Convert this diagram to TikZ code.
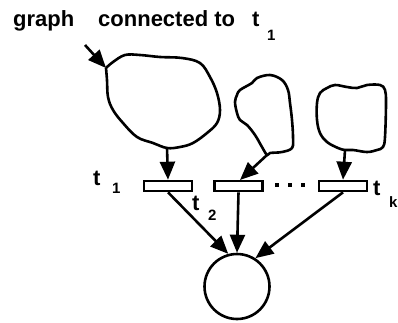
\documentclass[tikz,border=0pt]{standalone}
\usepackage{fontspec}
\setmainfont{Liberation Sans}
\usetikzlibrary{arrows.meta}
\tikzset{
  edge/.style={line width=2.6pt, -{Triangle[length=18pt,width=15pt]}},
  outline/.style={line width=2.6pt, line join=round},
  trans/.style={draw, line width=2.6pt, minimum width=48pt, minimum height=10pt, inner sep=0pt, fill=white},
  place/.style={draw, line width=2.6pt, circle, minimum size=65pt, inner sep=0pt},
  lbl/.style={inner sep=0pt, anchor=base west, font=\fontsize{22}{22}\selectfont\bfseries},
  sub/.style={inner sep=0pt, anchor=base west, font=\fontsize{15}{15}\selectfont\bfseries},
}
\begin{document}
\begin{tikzpicture}[x=1pt, y=-1pt]
\useasboundingbox (0,0) rectangle (398,322);

% heading
\node[lbl] (h1) at (13,26) {graph};
\node[lbl] (h2) at (98,26) {connected to};
\node[lbl] (h3) at (252,26) {t};
\node[sub] (h4) at (267,40) {1};

% subnets feeding the transitions
\draw[outline] plot[smooth, tension=0.6] coordinates {(106,68) (113,62) (125,55) (140,55) (160,57) (182,58) (200,63) (210,77) (217,93) (220,110) (217,123) (207,133) (193,143) (180,147) (167,148) (153,143) (137,137) (123,123) (113,110) (108,97) (107,80) (106,68)};
\draw[outline] plot[smooth cycle, tension=0.6] coordinates {(240,90) (252,83) (257,78) (270,75) (282,80) (288,90) (290,103) (292,120) (293,137) (292,148) (282,152) (270,153) (267,155) (262,147) (255,135) (247,125) (240,120) (237,113) (235,102) (237,95)};
\draw[outline] plot[smooth cycle, tension=0.6] coordinates {(317,103) (320,93) (327,88) (335,85) (347,87) (357,88) (367,85) (380,85) (385,90) (386,103) (385,137) (383,147) (377,150) (367,152) (353,150) (345,150) (338,148) (327,142) (320,133) (317,120)};

\coordinate (src) at (85,45);
\coordinate (g1in) at (106,68);
\coordinate (g1out) at (167,148);
\coordinate (g2out) at (267,155);
\coordinate (g3out) at (345,150);
\coordinate (t2in) at (240,180);

% transitions and the output place
\node[trans] (t1) at (168,186) {};
\node[trans] (t2) at (238.5,186) {};
\node[trans] (tk) at (343,186) {};
\node[place] (p) at (237,286.5) {};

% dots between t2 and tk
\foreach \x in {277,290,303} {
  \fill (\x-1.7,183.3) rectangle (\x+1.7,186.7);
}

% labels
\node[lbl] (l1) at (93,185) {t};
\node[sub] (l1s) at (112,193) {1};
\node[lbl] (l2) at (192,210) {t};
\node[sub] (l2s) at (208,220) {2};
\node[lbl] (lk) at (373,195) {t};
\node[sub] (lks) at (389,207) {k};

% arcs
\draw[edge] (src) -- (g1in);
\draw[edge] (g1out) -- (t1.north);
\draw[edge] (g2out) -- (t2in);
\draw[edge] (g3out) -- (tk.north);
\draw[edge] (t1.south) -- (p.105);
\draw[edge] (t2.south) -- (p.north);
\draw[edge] (tk.south) -- (p.57);
\end{tikzpicture}
\end{document}
